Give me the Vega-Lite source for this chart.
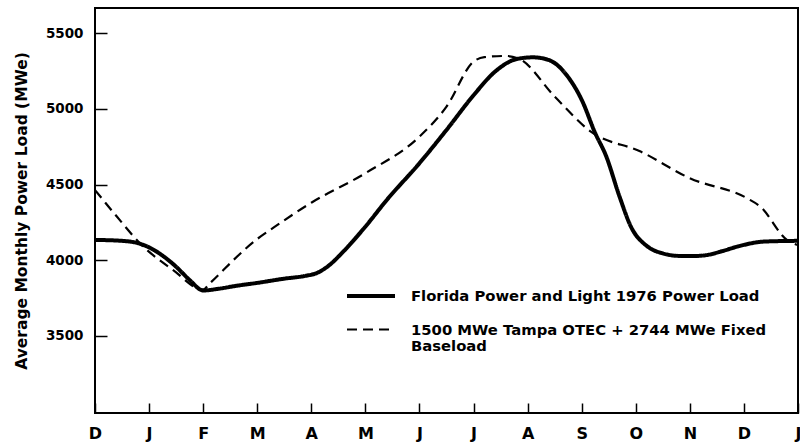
{
  "$schema": "https://vega.github.io/schema/vega-lite/v6.json",
  "width": 703,
  "height": 405,
  "autosize": {"type": "none"},
  "padding": {"left": 95, "top": 8, "right": 2, "bottom": 31},
  "background": "white",
  "config": {
    "font": "DejaVu Sans",
    "view": {"stroke": "black", "strokeWidth": 2},
    "axis": {
      "grid": false,
      "domain": false,
      "tickColor": "black",
      "tickWidth": 1.5,
      "labelColor": "black",
      "labelFont": "DejaVu Sans",
      "labelFontWeight": "bold",
      "titleColor": "black",
      "titleFont": "DejaVu Sans",
      "titleFontWeight": "bold"
    },
    "legend": {
      "labelFont": "DejaVu Sans",
      "labelFontWeight": "bold",
      "labelColor": "black"
    }
  },
  "data": {
    "values": [
      {"m": 0, "v": 4134, "s": "Florida Power and Light 1976 Power Load"},
      {"m": 0.5, "v": 4128, "s": "Florida Power and Light 1976 Power Load"},
      {"m": 0.8, "v": 4112, "s": "Florida Power and Light 1976 Power Load"},
      {"m": 1.0, "v": 4085, "s": "Florida Power and Light 1976 Power Load"},
      {"m": 1.25, "v": 4030, "s": "Florida Power and Light 1976 Power Load"},
      {"m": 1.5, "v": 3957, "s": "Florida Power and Light 1976 Power Load"},
      {"m": 1.75, "v": 3869, "s": "Florida Power and Light 1976 Power Load"},
      {"m": 2.0, "v": 3800, "s": "Florida Power and Light 1976 Power Load"},
      {"m": 2.3, "v": 3812, "s": "Florida Power and Light 1976 Power Load"},
      {"m": 2.6, "v": 3830, "s": "Florida Power and Light 1976 Power Load"},
      {"m": 3.0, "v": 3850, "s": "Florida Power and Light 1976 Power Load"},
      {"m": 3.5, "v": 3878, "s": "Florida Power and Light 1976 Power Load"},
      {"m": 3.9, "v": 3897, "s": "Florida Power and Light 1976 Power Load"},
      {"m": 4.1, "v": 3915, "s": "Florida Power and Light 1976 Power Load"},
      {"m": 4.3, "v": 3958, "s": "Florida Power and Light 1976 Power Load"},
      {"m": 4.6, "v": 4060, "s": "Florida Power and Light 1976 Power Load"},
      {"m": 5.0, "v": 4222, "s": "Florida Power and Light 1976 Power Load"},
      {"m": 5.4, "v": 4400, "s": "Florida Power and Light 1976 Power Load"},
      {"m": 6.0, "v": 4641, "s": "Florida Power and Light 1976 Power Load"},
      {"m": 6.5, "v": 4861, "s": "Florida Power and Light 1976 Power Load"},
      {"m": 7.0, "v": 5090, "s": "Florida Power and Light 1976 Power Load"},
      {"m": 7.4, "v": 5247, "s": "Florida Power and Light 1976 Power Load"},
      {"m": 7.8, "v": 5330, "s": "Florida Power and Light 1976 Power Load"},
      {"m": 8.1, "v": 5341, "s": "Florida Power and Light 1976 Power Load"},
      {"m": 8.4, "v": 5322, "s": "Florida Power and Light 1976 Power Load"},
      {"m": 8.75, "v": 5210, "s": "Florida Power and Light 1976 Power Load"},
      {"m": 9.0, "v": 5060, "s": "Florida Power and Light 1976 Power Load"},
      {"m": 9.25, "v": 4840, "s": "Florida Power and Light 1976 Power Load"},
      {"m": 9.45, "v": 4690, "s": "Florida Power and Light 1976 Power Load"},
      {"m": 9.7, "v": 4420, "s": "Florida Power and Light 1976 Power Load"},
      {"m": 9.91, "v": 4222, "s": "Florida Power and Light 1976 Power Load"},
      {"m": 10.22, "v": 4090, "s": "Florida Power and Light 1976 Power Load"},
      {"m": 10.5, "v": 4045, "s": "Florida Power and Light 1976 Power Load"},
      {"m": 10.83, "v": 4028, "s": "Florida Power and Light 1976 Power Load"},
      {"m": 11.1, "v": 4028, "s": "Florida Power and Light 1976 Power Load"},
      {"m": 11.33, "v": 4035, "s": "Florida Power and Light 1976 Power Load"},
      {"m": 11.6, "v": 4060, "s": "Florida Power and Light 1976 Power Load"},
      {"m": 11.88, "v": 4090, "s": "Florida Power and Light 1976 Power Load"},
      {"m": 12.37, "v": 4123, "s": "Florida Power and Light 1976 Power Load"},
      {"m": 13.0, "v": 4128, "s": "Florida Power and Light 1976 Power Load"},
      {"m": 0, "v": 4464, "s": "1500 MWe Tampa OTEC + 2744 MWe Fixed Baseload"},
      {"m": 0.4, "v": 4290, "s": "1500 MWe Tampa OTEC + 2744 MWe Fixed Baseload"},
      {"m": 0.83, "v": 4112, "s": "1500 MWe Tampa OTEC + 2744 MWe Fixed Baseload"},
      {"m": 1.44, "v": 3936, "s": "1500 MWe Tampa OTEC + 2744 MWe Fixed Baseload"},
      {"m": 2.0, "v": 3805, "s": "1500 MWe Tampa OTEC + 2744 MWe Fixed Baseload"},
      {"m": 2.12, "v": 3846, "s": "1500 MWe Tampa OTEC + 2744 MWe Fixed Baseload"},
      {"m": 3.0, "v": 4140, "s": "1500 MWe Tampa OTEC + 2744 MWe Fixed Baseload"},
      {"m": 3.3, "v": 4215, "s": "1500 MWe Tampa OTEC + 2744 MWe Fixed Baseload"},
      {"m": 4.0, "v": 4380, "s": "1500 MWe Tampa OTEC + 2744 MWe Fixed Baseload"},
      {"m": 5.0, "v": 4575, "s": "1500 MWe Tampa OTEC + 2744 MWe Fixed Baseload"},
      {"m": 6.0, "v": 4817, "s": "1500 MWe Tampa OTEC + 2744 MWe Fixed Baseload"},
      {"m": 6.5, "v": 5015, "s": "1500 MWe Tampa OTEC + 2744 MWe Fixed Baseload"},
      {"m": 7.0, "v": 5313, "s": "1500 MWe Tampa OTEC + 2744 MWe Fixed Baseload"},
      {"m": 7.2, "v": 5342, "s": "1500 MWe Tampa OTEC + 2744 MWe Fixed Baseload"},
      {"m": 7.6, "v": 5350, "s": "1500 MWe Tampa OTEC + 2744 MWe Fixed Baseload"},
      {"m": 7.85, "v": 5330, "s": "1500 MWe Tampa OTEC + 2744 MWe Fixed Baseload"},
      {"m": 8.5, "v": 5082, "s": "1500 MWe Tampa OTEC + 2744 MWe Fixed Baseload"},
      {"m": 9.17, "v": 4850, "s": "1500 MWe Tampa OTEC + 2744 MWe Fixed Baseload"},
      {"m": 10.09, "v": 4718, "s": "1500 MWe Tampa OTEC + 2744 MWe Fixed Baseload"},
      {"m": 11.0, "v": 4542, "s": "1500 MWe Tampa OTEC + 2744 MWe Fixed Baseload"},
      {"m": 12.06, "v": 4409, "s": "1500 MWe Tampa OTEC + 2744 MWe Fixed Baseload"},
      {"m": 12.3, "v": 4355, "s": "1500 MWe Tampa OTEC + 2744 MWe Fixed Baseload"},
      {"m": 12.8, "v": 4133, "s": "1500 MWe Tampa OTEC + 2744 MWe Fixed Baseload"},
      {"m": 13.0, "v": 4100, "s": "1500 MWe Tampa OTEC + 2744 MWe Fixed Baseload"}
    ]
  },
  "mark": {"type": "line", "color": "black", "interpolate": "monotone", "strokeCap": "butt"},
  "encoding": {
    "x": {
      "field": "m",
      "type": "quantitative",
      "scale": {"domain": [0, 13], "nice": false, "zero": false},
      "axis": {
        "title": null,
        "values": [0, 1, 2, 3, 4, 5, 6, 7, 8, 9, 10, 11, 12, 13],
        "labelExpr": "['D','J','F','M','A','M','J','J','A','S','O','N','D','J'][datum.value]",
        "offset": -10,
        "tickSize": 10,
        "labelPadding": 12,
        "labelFontSize": 16,
        "labelFlush": false
      }
    },
    "y": {
      "field": "v",
      "type": "quantitative",
      "scale": {"domain": [2990, 5667], "nice": false, "zero": false},
      "axis": {
        "title": "Average Monthly Power Load (MWe)",
        "values": [3500, 4000, 4500, 5000, 5500],
        "format": "d",
        "offset": -12,
        "tickSize": 12,
        "labelPadding": 12,
        "labelFontSize": 13.5,
        "titleFontSize": 15.5,
        "titlePadding": 16
      }
    },
    "strokeDash": {
      "field": "s",
      "type": "nominal",
      "scale": {
        "domain": ["Florida Power and Light 1976 Power Load", "1500 MWe Tampa OTEC + 2744 MWe Fixed Baseload"],
        "range": [[1, 0], [10, 6]]
      },
      "legend": {
        "title": null,
        "orient": "none",
        "legendX": 250,
        "legendY": 262,
        "symbolType": "stroke",
        "symbolSize": 2304,
        "symbolStrokeColor": "black",
        "labelFontSize": 14.8,
        "labelLimit": 1000,
        "labelOffset": 14,
        "labelBaseline": "alphabetic",
        "rowPadding": -10,
        "labelExpr": "datum.label == '1500 MWe Tampa OTEC + 2744 MWe Fixed Baseload' ? ['1500 MWe Tampa OTEC + 2744 MWe Fixed', 'Baseload'] : datum.label",
        "encode": {"labels": {"update": {"dy": {"value": 5}}}}
      }
    },
    "strokeWidth": {
      "field": "s",
      "type": "nominal",
      "scale": {
        "domain": ["Florida Power and Light 1976 Power Load", "1500 MWe Tampa OTEC + 2744 MWe Fixed Baseload"],
        "range": [4, 2.2]
      },
      "legend": null
    }
  }
}
